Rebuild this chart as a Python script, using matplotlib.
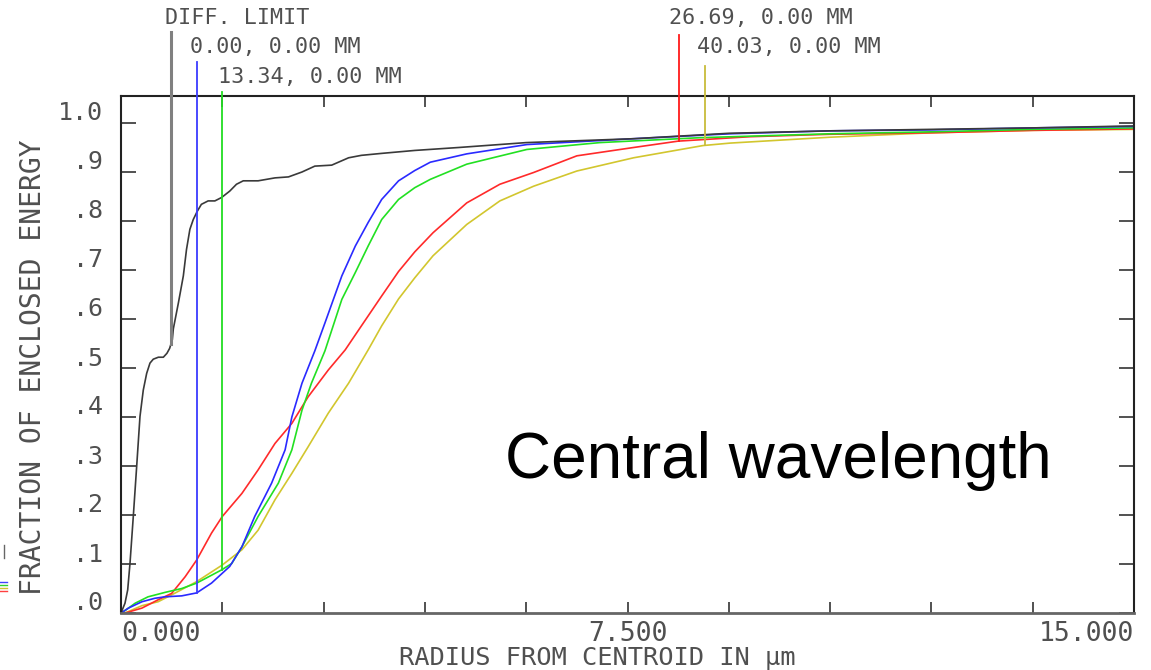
import numpy as np
import matplotlib
matplotlib.use("Agg")
import matplotlib.pyplot as plt
from matplotlib.transforms import ScaledTranslation
from matplotlib.lines import Line2D

# enclosed energy curves (radius in um, fraction)
r_diff = [0, 0.059, 0.099, 0.133, 0.182, 0.232, 0.281, 0.33, 0.38, 0.429, 0.478, 0.553, 0.627,
          0.68, 0.72, 0.76, 0.775, 0.85, 0.923, 0.97, 1.02, 1.07, 1.13, 1.19, 1.29, 1.39, 1.49,
          1.61, 1.71, 1.81, 2.03, 2.28, 2.48, 2.68, 2.87, 3.12, 3.37, 3.56, 3.86, 4.35, 5.0,
          6.0, 7.6, 9.0, 10.5, 12.0, 13.5, 15.0]
v_diff = [0, 0.02, 0.047, 0.101, 0.197, 0.299, 0.401, 0.455, 0.489, 0.51, 0.518, 0.522, 0.522,
          0.53, 0.54, 0.558, 0.58, 0.633, 0.688, 0.742, 0.783, 0.803, 0.82, 0.834, 0.841, 0.841,
          0.848, 0.861, 0.875, 0.882, 0.882, 0.888, 0.89, 0.9, 0.912, 0.914, 0.929, 0.934, 0.938,
          0.944, 0.95, 0.96, 0.968, 0.979, 0.984, 0.987, 0.99, 0.994]

r_blue = [0, 0.11, 0.31, 0.5, 0.65, 0.9, 1.12, 1.34, 1.61, 1.79, 1.98, 2.23, 2.43, 2.53, 2.68,
          2.87, 3.02, 3.27, 3.47, 3.66, 3.86, 4.11, 4.35, 4.58, 5.12, 6.01, 7.6, 9.02, 10.5,
          12.0, 13.5, 15.0]
v_blue = [0, 0.01, 0.023, 0.03, 0.033, 0.035, 0.041, 0.061, 0.095, 0.135, 0.197, 0.265, 0.333,
          0.4, 0.469, 0.535, 0.592, 0.688, 0.749, 0.797, 0.844, 0.882, 0.903, 0.92, 0.937,
          0.956, 0.968, 0.978, 0.984, 0.986, 0.99, 0.993]

r_green = [0, 0.06, 0.21, 0.4, 0.65, 0.9, 1.12, 1.49, 1.64, 1.79, 2.03, 2.33, 2.53, 2.68, 2.82,
           3.02, 3.27, 3.47, 3.66, 3.86, 4.11, 4.35, 4.58, 5.12, 6.01, 7.09, 8.57, 10.5, 12.0,
           13.5, 15.0]
v_green = [0, 0.005, 0.02, 0.033, 0.042, 0.05, 0.061, 0.088, 0.101, 0.135, 0.197, 0.265, 0.333,
           0.414, 0.469, 0.535, 0.64, 0.695, 0.749, 0.803, 0.844, 0.868, 0.885, 0.916, 0.946,
           0.96, 0.97, 0.978, 0.982, 0.987, 0.99]

r_red = [0, 0.06, 0.31, 0.55, 0.75, 0.95, 1.12, 1.34, 1.5, 1.79, 2.03, 2.28, 2.53, 2.77, 3.07,
         3.32, 3.56, 3.86, 4.11, 4.35, 4.62, 5.12, 5.61, 6.11, 6.75, 7.59, 8.25, 9.31, 10.5,
         12.0, 13.5, 15.0]
v_red = [0, 0.0, 0.01, 0.027, 0.04, 0.074, 0.108, 0.163, 0.197, 0.244, 0.292, 0.346, 0.387,
         0.441, 0.496, 0.537, 0.586, 0.647, 0.697, 0.737, 0.776, 0.837, 0.875, 0.899, 0.933,
         0.95, 0.963, 0.972, 0.977, 0.98, 0.985, 0.988]

r_yel = [0, 0.06, 0.31, 0.55, 0.75, 1.12, 1.5, 1.79, 2.03, 2.28, 2.53, 2.77, 3.07, 3.37, 3.66,
         3.86, 4.11, 4.35, 4.62, 5.12, 5.61, 6.11, 6.75, 7.59, 8.62, 9.02, 10.5, 12.0, 13.5, 15.0]
v_yel = [0, 0, 0.015, 0.023, 0.037, 0.064, 0.098, 0.129, 0.169, 0.231, 0.285, 0.339, 0.408,
         0.469, 0.537, 0.586, 0.641, 0.684, 0.729, 0.793, 0.841, 0.871, 0.902, 0.929, 0.954,
         0.959, 0.971, 0.98, 0.985, 0.987]

# field labels and the radius where each marker line sits
labels = ["DIFF. LIMIT", "0.00, 0.00 MM", "13.34, 0.00 MM", "26.69, 0.00 MM", "40.03, 0.00 MM"]
marker_r = [0.74, 1.125, 1.496, 8.26, 8.645]

xtick_labels = ["0.000", "", "", "", "", "7.500", "", "", "", "", "15.000"]
ytick_labels = [".0", ".1", ".2", ".3", ".4", ".5", ".6", ".7", ".8", ".9", "1.0"]

W, H = 1151, 670
mono = "DejaVu Sans Mono"
tcol = "#505050"

fig = plt.figure(figsize=(W / 100, H / 100), dpi=100)
ax = fig.add_axes([121 / W, 57 / H, 1013 / W, 517 / H])
ax.set_xlim(0, 15)
ax.set_ylim(0, 517 / 490)

curves = [
    (r_yel, v_yel, "#d2c62e"),
    (r_red, v_red, "#ff2a2a"),
    (r_green, v_green, "#22e022"),
    (r_blue, v_blue, "#2a2aff"),
    (r_diff, v_diff, "#3a3a3a"),
]
for r, v, c in curves:
    ax.plot(r, v, color=c, lw=1.2)

# marker lines go from the curve up past the frame to the label
line_cols = ["#808080", "#3c3cff", "#22dd22", "#ff1a1a", "#c8bc3c"]
line_top = [1.186, 1.124, 1.063, 1.18, 1.116]
curve_for = [(r_diff, v_diff), (r_blue, v_blue), (r_green, v_green), (r_red, v_red), (r_yel, v_yel)]
for i in range(5):
    rr, vv = curve_for[i]
    y0 = np.interp(marker_r[i], rr, vv)
    ax.plot([marker_r[i], marker_r[i]], [y0, line_top[i]], color=line_cols[i],
            lw=2.2 if i == 0 else 1.3, clip_on=False, zorder=5)

label_xy = [(165, 18), (190, 47), (218, 77), (669, 18), (697, 47)]
for (px, py), s in zip(label_xy, labels):
    fig.text(px / W, 1 - py / H, s, family=mono, fontsize=15.7, color=tcol,
             ha="left", va="center")

for sp in ax.spines.values():
    sp.set_color("#222222")
    sp.set_linewidth(1.5)
ax.spines["bottom"].set_color("#666666")
ax.spines["bottom"].set_linewidth(2)

ax.set_xticks(np.linspace(0, 15, 11))
ax.set_xticklabels(xtick_labels, family=mono, fontsize=19, color=tcol)
ax.tick_params(axis="x", direction="in", length=8, width=1.2, color="#333333",
               top=True, pad=6)
xl = ax.get_xticklabels()
xl[0].set_ha("left")
xl[-1].set_ha("right")

ax.set_yticks(np.linspace(0, 1, 11))
ax.set_yticklabels(ytick_labels, family=mono, fontsize=18, color=tcol)
ax.tick_params(axis="y", direction="in", length=11, width=1.2, color="#333333",
               right=True, pad=13)
shift = ScaledTranslation(0, 12 / 100, fig.dpi_scale_trans)
for lab in ax.get_yticklabels():
    lab.set_transform(lab.get_transform() + shift)

fig.text(597 / W, 1 - 658 / H, "RADIUS FROM CENTROID IN μm", family=mono, fontsize=18.3,
         color=tcol, ha="center", va="center")
fig.text(33 / W, 1 - 367 / H, "FRACTION OF ENCLOSED ENERGY", family=mono, fontsize=20.2,
         color=tcol, ha="center", va="center", rotation=90)

fig.text(505 / W, 1 - 478 / H, "Central wavelength", family="Liberation Sans",
         fontsize=46, color="black", ha="left", va="baseline")

# bits of a cut-off neighbour legend at the left edge
for yy, c in zip([582, 585, 588, 591], ["#4040ff", "#30d030", "#d0c030", "#ff4040"]):
    fig.add_artist(Line2D([0, 7 / W], [1 - yy / H] * 2, color=c, lw=1))
fig.add_artist(Line2D([4 / W, 4 / W], [1 - 545 / H, 1 - 558 / H], color="#666666", lw=1))

fig.savefig("out.png", dpi=100)
